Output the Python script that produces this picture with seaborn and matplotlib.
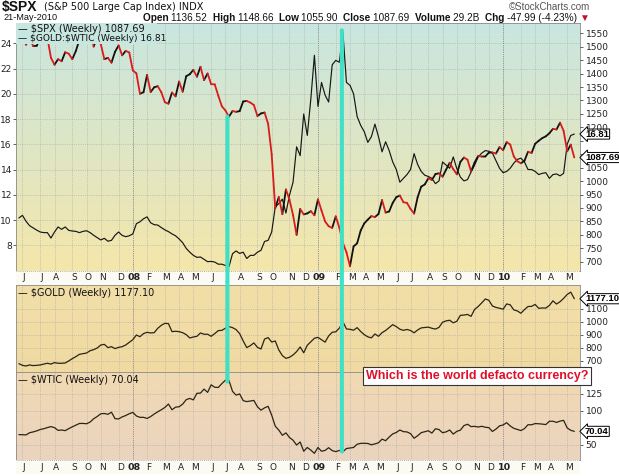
import numpy as np
import pandas as pd
import matplotlib
matplotlib.use("Agg")
import matplotlib.pyplot as plt
import matplotlib.dates as mdates
import matplotlib.transforms as mtrans
from matplotlib.colors import LinearSegmentedColormap
from matplotlib.patches import ConnectionPatch, Rectangle
import seaborn as sns

sns.set_theme(style="white")
plt.rcParams['font.family'] = ['DejaVu Sans']

# ---------------- data (weekly closes) ----------------
start_week = "2007-05-25"

spx_close = [
    1515.7, 1536.3, 1507.7, 1532.9, 1502.6, 1503.4, 1530.4, 1552.5, 1534.1, 1458.9,
    1433.1, 1453.6, 1445.9, 1479.4, 1474.0, 1453.6, 1484.3, 1525.8, 1526.8, 1557.6,
    1561.8, 1500.6, 1535.3, 1509.7, 1453.7, 1458.7, 1440.7, 1481.1, 1504.7, 1468.0,
    1484.5, 1478.5, 1411.6, 1401.0, 1325.2, 1330.6, 1395.4, 1331.3, 1349.0, 1353.1,
    1330.6, 1293.4, 1288.1, 1329.5, 1315.2, 1370.4, 1332.8, 1390.3, 1397.8, 1413.9,
    1388.3, 1425.4, 1375.9, 1400.4, 1360.7, 1360.0, 1317.9, 1278.4, 1262.9, 1239.5,
    1260.7, 1257.8, 1260.3, 1296.3, 1298.2, 1292.2, 1282.8, 1242.3, 1251.7, 1255.1,
    1213.3, 1099.2, 899.2, 940.6, 876.8, 968.8, 931.0, 873.3, 800.0, 896.2,
    876.1, 879.7, 887.9, 872.8, 931.8, 890.4, 850.1, 832.0, 825.9, 868.6,
    826.8, 770.1, 735.1, 683.4, 756.6, 768.5, 815.9, 842.5, 856.6, 869.6,
    866.2, 877.5, 929.2, 882.9, 887.0, 919.1, 940.1, 946.2, 921.2, 918.9,
    896.4, 879.1, 940.4, 979.3, 987.5, 1010.5, 1004.1, 1026.1, 1028.9, 1016.4,
    1042.7, 1068.3, 1044.4, 1025.2, 1071.5, 1087.7, 1079.6, 1036.2, 1069.3, 1093.5,
    1091.4, 1091.5, 1106.0, 1106.4, 1102.5, 1126.5, 1115.1, 1145.0, 1136.0, 1091.8,
    1073.9, 1066.2, 1075.5, 1109.2, 1104.5, 1138.7, 1150.0, 1159.9, 1166.6, 1178.1,
    1194.4, 1192.1, 1217.3, 1186.7, 1110.9, 1135.7, 1087.69,
]

gold_wtic_ratio = [
    10.16, 10.37, 9.9, 9.55, 9.37, 9.2, 9.05, 9.0, 9.0, 8.57,
    9.05, 9.45, 9.26, 9.45, 9.18, 9.13, 9.1, 9.0, 9.1, 9.15,
    9.0, 8.79, 8.6, 8.42, 8.55, 8.32, 8.39, 8.79, 9.05, 8.78,
    8.68, 8.75, 8.9, 9.71, 9.86, 10.1, 10.25, 9.78, 9.63, 9.6,
    9.4, 9.22, 9.08, 8.9, 8.75, 8.5, 8.2, 7.75, 7.45, 7.2,
    7.04, 7.07, 6.88, 6.7, 6.72, 6.67, 6.5, 6.5, 6.4, 6.3,
    7.33, 7.55, 7.35, 7.45, 6.95, 7.2, 7.2, 7.45, 7.6, 8.3,
    8.39, 9.05, 11.03, 11.3, 11.65, 10.55, 11.96, 13.0, 15.8, 15.1,
    18.4, 16.7, 19.6, 23.05, 19.0, 20.9, 19.9, 19.35, 22.3, 22.65,
    22.5, 24.9, 20.9, 20.67, 20.0, 18.2, 17.5, 17.0, 16.15, 16.6,
    17.6, 16.6, 15.4, 16.2, 15.5, 14.6, 14.0, 13.0, 13.3, 13.6,
    14.0, 15.26, 14.4, 13.85, 13.55, 13.45, 13.3, 12.88, 13.1, 14.6,
    14.35, 14.1, 15.0, 14.07, 13.4, 13.1, 13.2, 13.8, 14.35, 15.0,
    15.3, 15.5, 15.45, 15.3, 14.7, 14.1, 13.75, 13.85, 14.1, 14.5,
    14.8, 14.9, 14.6, 14.0, 14.0, 13.85, 13.6, 13.7, 13.75, 13.3,
    13.6, 13.65, 13.5, 13.7, 16.0, 16.7, 16.81,
]

gold_close = [
    676, 663, 658, 666, 661, 663, 666, 673, 679, 673,
    684, 679, 679, 681, 697, 715, 730, 748, 753, 758,
    776, 784, 797, 820, 825, 800, 807, 792, 802, 807,
    820, 841, 861, 897, 884, 908, 918, 913, 915, 949,
    972, 987, 985, 923, 926, 923, 915, 900, 874, 882,
    887, 913, 903, 903, 887, 908, 931, 933, 949, 962,
    954, 939, 908, 851, 800, 815, 836, 802, 789, 866,
    877, 843, 851, 782, 738, 717, 725, 743, 769, 805,
    760, 818, 845, 872, 879, 860, 842, 890, 918, 922,
    950, 1000, 944, 941, 934, 954, 924, 900, 883, 875,
    905, 887, 915, 932, 955, 977, 962, 942, 933, 940,
    932, 914, 936, 952, 955, 958, 949, 943, 956, 996,
    1006, 1011, 991, 1003, 1049, 1051, 1056, 1041, 1095, 1117,
    1145, 1175, 1165, 1121, 1110, 1104, 1096, 1137, 1130, 1091,
    1083, 1065, 1093, 1117, 1118, 1133, 1103, 1106, 1105, 1125,
    1161, 1136, 1154, 1180, 1210, 1228, 1177.10,
]

wtic_close = [
    65.2, 65.1, 64.8, 68.0, 69.2, 70.7, 72.8, 73.9, 75.6, 77.0,
    75.5, 71.5, 72.0, 71.1, 74.0, 76.7, 79.1, 81.6, 81.7, 81.2,
    83.7, 88.6, 91.9, 95.9, 96.3, 95.1, 98.2, 88.7, 88.3, 91.3,
    93.3, 96.0, 97.9, 92.7, 90.6, 90.7, 89.0, 91.8, 95.5, 98.8,
    101.8, 105.2, 110.2, 101.8, 105.6, 106.2, 110.1, 116.7, 118.5, 116.3,
    126.0, 126.3, 132.2, 127.4, 138.5, 134.9, 134.6, 140.2, 145.3, 145.1,
    128.9, 123.3, 125.1, 115.2, 113.8, 114.6, 115.5, 106.2, 101.2, 104.6,
    106.9, 93.9, 77.7, 71.9, 64.2, 67.8, 61.0, 57.0, 49.9, 54.4,
    40.8, 46.3, 42.4, 37.7, 46.3, 40.8, 42.0, 46.0, 41.7, 40.2,
    42.0, 40.0, 44.8, 45.5, 46.3, 51.1, 52.4, 52.5, 52.2, 50.3,
    51.6, 53.2, 58.6, 56.3, 61.7, 66.3, 68.4, 72.0, 69.6, 69.2,
    66.7, 59.9, 63.6, 68.1, 69.5, 70.9, 67.5, 73.9, 72.7, 68.0,
    69.3, 72.0, 66.0, 70.0, 71.8, 78.5, 80.5, 77.0, 77.4, 76.4,
    77.5, 76.1, 75.5, 69.9, 73.4, 78.1, 79.4, 82.8, 78.0, 74.5,
    72.9, 71.2, 74.1, 79.8, 79.7, 81.5, 81.2, 80.7, 80.0, 84.9,
    84.9, 83.2, 85.1, 86.2, 75.1, 71.6, 70.04,
]

left_ticks = [8, 10, 12, 14, 16, 18, 20, 22, 24]
spx_ticks = list(range(700, 1551, 50))
spx_hidden = [1100, 1150]          # covered by the value tags in the original
gold_ticks = [700, 800, 900, 1000, 1100]
wtic_ticks = [50, 100, 125]

header_parts = [("Open ", True), ("1136.52  ", False), ("High ", True), ("1148.66  ", False),
                ("Low ", True), ("1055.90  ", False), ("Close ", True), ("1087.69  ", False),
                ("Volume ", True), ("29.2B  ", False), ("Chg ", True), ("-47.99 (-4.23%) ", False)]

# ---------------- layout ----------------
weeks = pd.date_range(start_week, periods=len(spx_close), freq="W-FRI")
xnum = mdates.date2num(weeks)
end = xnum[-1]
x_left, x_right = end - 1097.7, end + 11.2

W, H = 619, 476
fig = plt.figure(figsize=(W / 100, H / 100), dpi=100)
fig.patch.set_facecolor("white")


def px_axes(l, t, r, b):
    return fig.add_axes([l / W, 1 - b / H, (r - l) / W, (b - t) / H])


ax_top = px_axes(16, 23, 580, 271)
ax_gold = px_axes(16, 285, 580, 372.3)
ax_wtic = px_axes(16, 372.3, 580, 460)
strip1 = px_axes(16, 271, 580, 285)
strip2 = px_axes(16, 460, 580, 474)


def gradient(ax, bottom, top):
    cmap = LinearSegmentedColormap.from_list("g", [bottom, top])
    arr = np.linspace(1, 0, 256).reshape(-1, 1)
    ax.imshow(arr, cmap=cmap, aspect="auto", extent=[0, 1, 0, 1],
              transform=ax.transAxes, zorder=0, interpolation="bilinear")


top_color = "#c8e6e0"
gradient(ax_top, "#f5e6aa", top_color)
gradient(ax_gold, "#f0daa2", "#f2dfa8")
gradient(ax_wtic, "#ebd4bf", "#f1d9b2")

# month positions
firsts = []
prev = None
for d in weeks:
    k = (d.year, d.month)
    if k != prev:
        firsts.append(d)
        prev = k
firsts = firsts[1:]
first_num = mdates.date2num(firsts)

grid_kw = dict(color="#a8a8a8", lw=0.5, linestyle=(0, (1, 1.6)))
for ax in (ax_top, ax_gold, ax_wtic):
    ax.set_axisbelow(True)
    ax.set_xticks(first_num)
    ax.grid(axis="x", **grid_kw)
    ax.grid(axis="y", **grid_kw)
    for d, xv in zip(firsts, first_num):
        if d.month == 1:
            ax.axvline(xv, color="#808080", lw=0.6, linestyle=(0, (1, 1.6)), zorder=0.6)
    ax.tick_params(axis="x", labelbottom=False, length=0)
    for s in ax.spines.values():
        s.set_color("#8a8a8a")
        s.set_linewidth(0.6)

# ---------------- top panel ----------------
ax_r = ax_top.twinx()
sns.lineplot(x=xnum, y=gold_wtic_ratio, ax=ax_top, color="#161616", lw=0.85)

seg_rows = []
for i in range(1, len(spx_close)):
    direction = "down" if spx_close[i] < spx_close[i - 1] else "up"
    seg_rows.append((i, xnum[i - 1], spx_close[i - 1], direction))
    seg_rows.append((i, xnum[i], spx_close[i], direction))
seg_df = pd.DataFrame(seg_rows, columns=["seg", "x", "spx", "dir"])
sns.lineplot(data=seg_df, x="x", y="spx", hue="dir", units="seg", estimator=None,
             palette={"up": "#111111", "down": "#d81c1c"}, lw=1.3, ax=ax_r,
             legend=False, sort=False, solid_capstyle="round")

ax_top.set_yticks(left_ticks)
ax_top.set_yticklabels([str(v) for v in left_ticks])
ax_top.tick_params(axis="y", left=True, labelleft=True, labelsize=6.5, length=2,
                   pad=1, colors="#222222", width=0.5)
ax_r.set_yticks(spx_ticks)
ax_r.set_yticklabels(["" if v in spx_hidden else str(v) for v in spx_ticks])
ax_r.tick_params(axis="y", right=True, labelright=True, labelsize=6.5, length=2,
                 pad=2, colors="#222222", width=0.5)
for ax in (ax_top, ax_r):
    ax.set_xlabel("")
    ax.set_ylabel("")
for s in ax_r.spines.values():
    s.set_visible(False)

# legend box hiding the lines below it
ax_r.add_patch(Rectangle((0, 1 - 21.5 / 248), 141 / 564, 21.5 / 248, transform=ax_r.transAxes,
                         fc=top_color, ec="none", zorder=5))
ax_r.text(2 / 564, 1 - 6.5 / 248, "— $SPX (Weekly) 1087.69", transform=ax_r.transAxes,
          fontsize=7, va="center", ha="left", color="#111111", zorder=6, parse_math=False)
ax_r.text(2 / 564, 1 - 16 / 248, "— $GOLD:$WTIC (Weekly) 16.81", transform=ax_r.transAxes,
          fontsize=6.6, va="center", ha="left", color="#111111", zorder=6, parse_math=False)

# ---------------- gold panel ----------------
sns.lineplot(x=xnum, y=gold_close, ax=ax_gold, color="#2a2415", lw=0.9)
ax_gold.yaxis.tick_right()
ax_gold.set_yticks(gold_ticks)
ax_gold.set_yticklabels([str(v) for v in gold_ticks])
ax_gold.tick_params(axis="y", right=True, labelright=True, left=False, labelleft=False,
                    labelsize=6.5, length=2, pad=2, colors="#222222", width=0.5)
ax_gold.text(2 / 564, 1 - 8 / 87.3, "— $GOLD (Weekly) 1177.10", transform=ax_gold.transAxes,
             fontsize=7, va="center", ha="left", color="#111111", zorder=6, parse_math=False)

# ---------------- wtic panel ----------------
sns.lineplot(x=xnum, y=wtic_close, ax=ax_wtic, color="#2a2415", lw=0.9)
ax_wtic.yaxis.tick_right()
ax_wtic.set_yticks(wtic_ticks)
ax_wtic.set_yticklabels([str(v) for v in wtic_ticks])
ax_wtic.tick_params(axis="y", right=True, labelright=True, left=False, labelleft=False,
                    labelsize=6.5, length=2, pad=2, colors="#222222", width=0.5)
ax_wtic.text(2 / 564, 1 - 8 / 87.7, "— $WTIC (Weekly) 70.04", transform=ax_wtic.transAxes,
             fontsize=7, va="center", ha="left", color="#111111", zorder=6, parse_math=False)

for ax in (ax_gold, ax_wtic):
    ax.set_xlabel("")
    ax.set_ylabel("")

# ---------------- limits ----------------
for ax in (ax_top, ax_r, ax_gold, ax_wtic, strip1, strip2):
    ax.set_xlim(x_left, x_right)
ax_top.set_ylim(5.96, 25.61)
ax_r.set_ylim(665.4, 1588.3)
ax_gold.set_ylim(609.3, 1283)
ax_wtic.set_ylim(27.9, 156.9)

# ---------------- date strips ----------------
for st in (strip1, strip2):
    st.set_facecolor("#fbfaf3")
    st.set_xticks([])
    st.set_yticks([])
    st.set_ylim(0, 1)
    for s in st.spines.values():
        s.set_visible(False)
    st.axhline(0.02, color="#9a9a9a", lw=0.6, linestyle=(0, (1, 1.5)))
    st.axhline(0.98, color="#9a9a9a", lw=0.6, linestyle=(0, (1, 1.5)))
    tr = mtrans.blended_transform_factory(st.transData, st.transAxes)
    for d, xv in zip(firsts, first_num):
        if d.month == 1:
            st.text(xv + 3, 0.5, f"{d.year % 100:02d}", transform=tr, ha="center", va="center",
                    fontsize=6.8, fontweight="bold", color="#222222")
        else:
            st.text(xv + 3, 0.5, d.strftime("%b")[0], transform=tr, ha="center", va="center",
                    fontsize=6.5, color="#222222")


# ---------------- value tags ----------------
def tag(ax, yval, text):
    tr = mtrans.blended_transform_factory(ax.transAxes, ax.transData)
    ax.text(1.009, yval, text, transform=tr, ha="left", va="center", fontsize=6.8,
            fontweight="bold", color="black", zorder=20, clip_on=False,
            family=["Liberation Sans", "DejaVu Sans"],
            bbox=dict(boxstyle="larrow,pad=0.06", fc="white", ec="black", lw=0.7))


tag(ax_top, gold_wtic_ratio[-1], f"{gold_wtic_ratio[-1]:.2f}")
tag(ax_r, spx_close[-1], f"{spx_close[-1]:.2f}")
tag(ax_gold, gold_close[-1], f"{gold_close[-1]:.2f}")
tag(ax_wtic, wtic_close[-1], f"{wtic_close[-1]:.2f}")

# ---------------- teal annotation lines ----------------
d1 = mdates.date2num(pd.Timestamp("2008-07-08"))
d2 = mdates.date2num(pd.Timestamp("2009-02-18"))
teal = "#3ee0c6"
con1 = ConnectionPatch(xyA=(d1, 1239.6), coordsA=ax_r.transData, xyB=(d1, 143.1),
                       coordsB=ax_wtic.transData, color=teal, lw=2.9, zorder=2)
con2 = ConnectionPatch(xyA=(d2, 25.03), coordsA=ax_top.transData, xyB=(d2, 40.1),
                       coordsB=ax_wtic.transData, color=teal, lw=2.9, zorder=2)
fig.add_artist(con1)
fig.add_artist(con2)

# ---------------- header ----------------
hfam = ["Liberation Sans", "DejaVu Sans"]
renderer = fig.canvas.get_renderer()


def seq(x0, ypx, parts, size):
    x = x0
    for s, bold, col in parts:
        t = fig.text(x / W, 1 - ypx / H, s, ha="left", va="center", fontsize=size,
                     fontweight="bold" if bold else "normal", color=col, family=hfam,
                     parse_math=False)
        x += t.get_window_extent(renderer).width
    return x


seq(2, 7.5, [("$SPX", True, "#111111")], 10)
fig.text(44 / W, 1 - 7.5 / H, "(S&P 500 Large Cap Index) INDX", ha="left", va="center",
         fontsize=7, color="#111111", family=["DejaVu Sans"], parse_math=False)
fig.text(590 / W, 1 - 7.5 / H, "©StockCharts.com", ha="right", va="center", fontsize=7,
         color="#555555", family=hfam)
fig.text(3 / W, 1 - 18 / H, "21-May-2010", ha="left", va="center", fontsize=6.6,
         color="#111111", family=hfam)

parts = [(s, b, "#111111") for s, b in header_parts] + [("▼", False, "#c0102a")]
tmp_w = 0
for s, b, c in parts:
    t = fig.text(0, 0, s, fontsize=7.2, fontweight="bold" if b else "normal", family=hfam,
                 parse_math=False)
    tmp_w += t.get_window_extent(renderer).width
    t.remove()
seq(590 - tmp_w, 18, parts, 7.2)

# ---------------- callout ----------------
fig.text(477 / W, 1 - 376 / H, "Which is the world defacto currency?", ha="center", va="center",
         fontsize=9, fontweight="bold", color="#e0102a", family=hfam, zorder=30,
         bbox=dict(boxstyle="square,pad=0.25", fc="white", ec="#333333", lw=0.8))

fig.savefig("out.png", dpi=100)
